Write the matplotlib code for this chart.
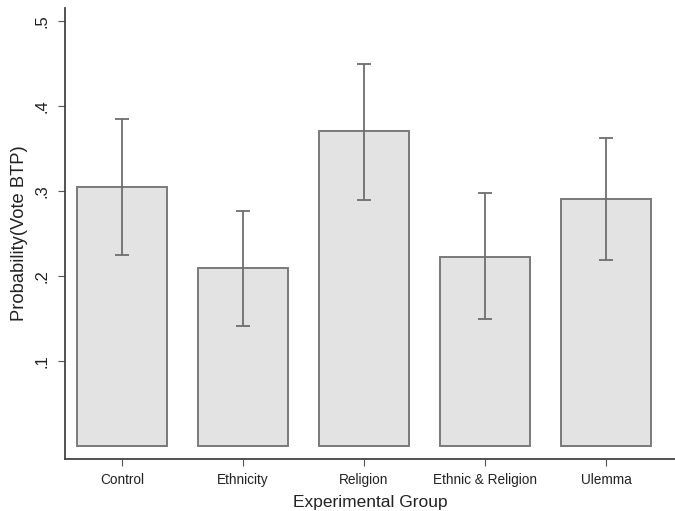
import matplotlib.pyplot as plt
from matplotlib.ticker import FuncFormatter

# Data
groups = ['Control', 'Ethnicity', 'Religion', 'Ethnic & Religion', 'Ulemma']
prob = [0.304, 0.209, 0.370, 0.222, 0.290]
ci_low = [0.224, 0.141, 0.289, 0.149, 0.219]
ci_high = [0.384, 0.276, 0.449, 0.297, 0.362]

plt.rcParams['font.family'] = ['Liberation Sans', 'DejaVu Sans']

fig = plt.figure(figsize=(6.75, 5.11), dpi=100)
ax = fig.add_axes([65 / 675, 1 - 459 / 511, 1 - 65 / 675, (459 - 8) / 511])

x = list(range(len(groups)))
err = [[p - lo for p, lo in zip(prob, ci_low)],
       [hi - p for p, hi in zip(prob, ci_high)]]

ax.bar(x, prob, width=0.745, color='#e3e3e3', edgecolor='#7a7a7a', linewidth=1.4)
ax.errorbar(x, prob, yerr=err, fmt='none', ecolor='#6e6e6e', elinewidth=1.3,
            capsize=5, capthick=1.3)

ax.set_xlim(-0.471, 4.57)
ax.set_ylim(-0.0153, 0.515)
ax.set_xticks(x)
ax.set_xticklabels(groups, fontsize=9.8)
ax.set_yticks([0.1, 0.2, 0.3, 0.4, 0.5])
ax.yaxis.set_major_formatter(FuncFormatter(lambda v, pos: ('%.1f' % v).lstrip('0')))
for lab in ax.get_yticklabels():
    lab.set_rotation(90)
    lab.set_va('center')
    lab.set_fontsize(12)

ax.tick_params(axis='both', direction='out', length=5, width=0.8, color='#555555',
               labelcolor='#222222')
ax.tick_params(axis='x', pad=5)
ax.tick_params(axis='y', pad=6)

ax.spines['top'].set_visible(False)
ax.spines['right'].set_visible(False)
for s in ['left', 'bottom']:
    ax.spines[s].set_color('#444444')
    ax.spines[s].set_linewidth(1.3)

ax.set_xlabel('Experimental Group', fontsize=12.5, color='#222222', labelpad=6)
ax.set_ylabel('Probability(Vote BTP)', fontsize=13.2, color='#222222', labelpad=5)

fig.savefig('out.png', dpi=100)
